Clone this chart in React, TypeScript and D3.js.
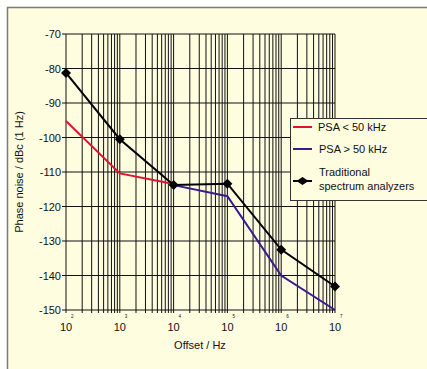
import React from "react";
import * as d3 from "d3";

const decades = [2, 3, 4, 5, 6, 7];
const yTicks = [-70, -80, -90, -100, -110, -120, -130, -140, -150];
const tradX = [1e2, 1e3, 1e4, 1e5, 1e6, 1e7];
const tradY = [-81.3, -100.5, -113.8, -113.4, -132.5, -143.2];
const redX = [1e2, 1e3, 1e4];
const redY = [-95.2, -110.4, -113.5];
const purX = [1e4, 1e5, 1e6, 1e7];
const purY = [-113.8, -117, -140, -150];
const legendLabels = ["PSA < 50 kHz", "PSA > 50 kHz", "Traditional", "spectrum analyzers"];

const W = 427, H = 369;
const L = 66, R = 335, T = 34, B = 310;
const FONT = "Liberation Sans, Arial, sans-serif";

export default function App() {
  const x = d3.scaleLog().domain([1e2, 1e7]).range([L, R]);
  const y = d3.scaleLinear().domain([-150, -70]).range([B, T]);
  const minors: number[] = [];
  for (let d = 2; d < 7; d++) for (let m = 1; m <= 9; m++) minors.push(m * Math.pow(10, d));
  minors.push(1e7);
  const line = d3.line<[number, number]>().x(d => x(d[0])).y(d => y(d[1]));
  const trad = tradX.map((v, i) => [v, tradY[i]] as [number, number]);
  const red = redX.map((v, i) => [v, redY[i]] as [number, number]);
  const pur = purX.map((v, i) => [v, purY[i]] as [number, number]);
  const diamond = "M0,-5L5,0L0,5L-5,0Z";
  const legDiamond = "M0,-4L6,0L0,4L-6,0Z";

  return (
    <svg width={W} height={H} style={{ position: "absolute", left: 0, top: 0, display: "block" }}>
      <rect x={0} y={0} width={W} height={H} fill="#ffffff" />
      <rect x={7.5} y={7.5} width={W} height={H} fill="#fefde0" stroke="#7a7a7a" strokeWidth={1.5} />
      {minors.map((v, i) => (
        <g key={"v" + i}>
          <line x1={x(v)} x2={x(v)} y1={T} y2={B} stroke="#111" strokeWidth={1} />
          <line x1={x(v)} x2={x(v)} y1={B} y2={B + 3} stroke="#111" strokeWidth={1} />
        </g>
      ))}
      {yTicks.map(t => (
        <g key={"h" + t}>
          <line x1={L - 4} x2={R} y1={y(t)} y2={y(t)} stroke="#111" strokeWidth={1.2} />
          <text x={L - 5} y={y(t) + 4} textAnchor="end" fontFamily={FONT} fontSize={11} fill="#111">{t}</text>
        </g>
      ))}
      {decades.map(d => (
        <g key={"d" + d}>
          <text x={x(Math.pow(10, d))} y={B + 21} textAnchor="middle" fontFamily={FONT} fontSize={11} fill="#111">10</text>
          <text x={x(Math.pow(10, d)) + 5} y={B + 8} textAnchor="start" fontFamily={FONT} fontSize={4.5} fill="#111">{d}</text>
        </g>
      ))}
      <text x={200} y={349} textAnchor="middle" fontFamily={FONT} fontSize={11} fill="#111">Offset / Hz</text>
      <text transform={`translate(23,${(T + B) / 2}) rotate(-90)`} textAnchor="middle" fontFamily={FONT} fontSize={11} fill="#111">Phase noise / dBc (1 Hz)</text>

      <path d={line(red) as string} fill="none" stroke="#e2122f" strokeWidth={2} />
      <path d={line(pur) as string} fill="none" stroke="#3b1a8e" strokeWidth={2} />
      <path d={line(trad) as string} fill="none" stroke="#000" strokeWidth={2} />
      {trad.map((p, i) => (
        <path key={"m" + i} d={diamond} transform={`translate(${x(p[0])},${y(p[1])})`} fill="#000" />
      ))}

      <rect x={290.5} y={118.5} width={150} height={82} fill="#fefde0" stroke="#333" strokeWidth={1} />
      <line x1={293} x2={312} y1={127} y2={127} stroke="#e2122f" strokeWidth={2} />
      <text x={318} y={131} fontFamily={FONT} fontSize={11} fill="#111">{legendLabels[0]}</text>
      <line x1={293} x2={312} y1={149} y2={149} stroke="#3b1a8e" strokeWidth={2} />
      <text x={319} y={153} fontFamily={FONT} fontSize={11} fill="#111">{legendLabels[1]}</text>
      <line x1={293} x2={312} y1={181} y2={181} stroke="#000" strokeWidth={2} />
      <path d={legDiamond} transform="translate(302.5,181)" fill="#000" />
      <text x={319} y={176} fontFamily={FONT} fontSize={11} fill="#111">{legendLabels[2]}</text>
      <text x={319} y={190} fontFamily={FONT} fontSize={11} fill="#111">{legendLabels[3]}</text>
    </svg>
  );
}
